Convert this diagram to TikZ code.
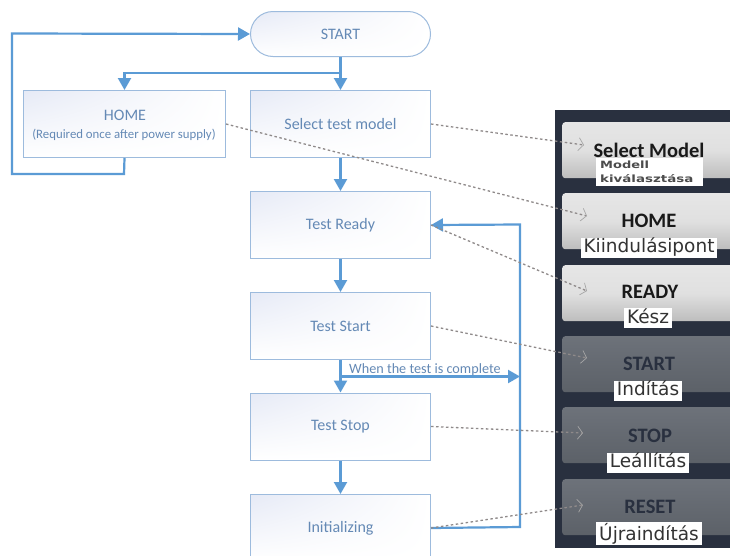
\documentclass[tikz,border=0pt]{standalone}
\usepackage{fontspec}
\usepackage{graphicx}
\setmainfont{Carlito}
\newfontfamily\btnfont{Carlito}
\newfontfamily\hufont{DejaVu Sans}
\usetikzlibrary{arrows.meta,calc,shadings}
\definecolor{flowblue}{HTML}{5B9BD5}
\definecolor{boxline}{HTML}{9DBBDD}
\definecolor{flowtext}{HTML}{6489B5}
\definecolor{panelc}{HTML}{29303F}
\definecolor{boxtint}{HTML}{E6EAF6}
\definecolor{hintc}{HTML}{8F8A8A}
\definecolor{btnlighta}{HTML}{E6E6E6}
\definecolor{btnlightm}{HTML}{E0E0E0}
\definecolor{btnlightb}{HTML}{BDBDBD}
\definecolor{btndarka}{HTML}{6D727A}
\definecolor{btndarkb}{HTML}{5C6168}
\tikzset{
  x=1pt,y=-1pt,
  flowbox/.style={draw=boxline,line width=1pt,minimum width=180pt,minimum height=67pt,inner sep=0pt,
    upper left=boxtint,upper right=white,lower left=white,lower right=white,
    text=flowtext,font=\fontsize{16}{18}\selectfont,align=center},
  flow/.style={draw=flowblue,line width=2.2pt,-{Triangle[length=12pt,width=13pt]}},
  hint/.style={draw=hintc,line width=1.3pt,dash pattern=on 2.5pt off 2.5pt,-{Straight Barb[length=5pt,width=13pt,line width=0.7pt,color=black!35]}},
  lightbtn/.style={rounded corners=3pt,minimum width=172pt,minimum height=56pt,inner sep=0pt,
    top color=btnlighta,bottom color=btnlightb,middle color=btnlightm},
  darkbtn/.style={rounded corners=3pt,minimum width=172pt,minimum height=56pt,inner sep=0pt,
    top color=btndarka,bottom color=btndarkb},
  btntitle/.style={font=\btnfont\bfseries\fontsize{20.5}{22}\selectfont,text=black!90,inner sep=0pt},
  btntitledark/.style={font=\btnfont\bfseries\fontsize{20.5}{22}\selectfont,text=panelc,inner sep=0pt},
  hulabel/.style={fill=white,font=\hufont\fontsize{18.5}{20}\selectfont,text=black!80,inner xsep=3pt,inner ysep=0pt,text height=15pt,text depth=5pt},
}
\begin{document}
\begin{tikzpicture}
\useasboundingbox (0,0) rectangle (730,555);
\clip (0,0) rectangle (730,555);
\fill[white] (0,0) rectangle (730,555);
% panel
\node[fill=panelc,minimum width=175pt,minimum height=438pt,inner sep=0pt,anchor=north west] (panel) at (555,110) {};
\node[lightbtn,anchor=north west] (b1) at (562,122) {};
\node[lightbtn,anchor=north west] (b2) at (562,193) {};
\node[lightbtn,anchor=north west] (b3) at (562,265) {};
\node[darkbtn,anchor=north west] (b4) at (562,336) {};
\node[darkbtn,anchor=north west] (b5) at (562,407) {};
\node[darkbtn,anchor=north west] (b6) at (562,479) {};
\node[btntitle] (t1) at (649,150) {Select Model};
\node[btntitle] (t2) at (649,221) {HOME};
\node[btntitle] (t3) at (650,292) {READY};
\node[btntitledark] (t4) at (649,364) {START};
\node[btntitledark] (t5) at (650,436) {STOP};
\node[btntitledark] (t6) at (650,507) {RESET};
\node[fill=white,minimum width=107pt,minimum height=28pt,inner sep=0pt,anchor=north west] (l1bg) at (596,158) {};
\node[font=\hufont\bfseries\fontsize{10}{11}\selectfont,text=black!70,inner sep=0pt,anchor=west] (l1a) at (600,165) {\scalebox{1.3}[1]{Modell}};
\node[font=\hufont\bfseries\fontsize{10}{11}\selectfont,text=black!70,inner sep=0pt,anchor=west] (l1b) at (600,179) {\scalebox{1.34}[1]{kiválasztása}};
\node[hulabel] (l2) at (649,247.5) {Kiindulásipont};
\node[hulabel] (l3) at (648,318) {Kész};
\node[hulabel] (l4) at (648,390.5) {Indítás};
\node[hulabel] (l5) at (648,462.5) {Leállítás};
\node[hulabel,text height=18pt] (l6) at (649,533.5) {Újraindítás};
% flow boxes
\node[flowbox,rounded corners=22.5pt,minimum height=45pt,anchor=north west] (start) at (250,11) {START};
\node[flowbox,minimum width=202pt,anchor=north west] (home) at (23,90) {};
\node[text=flowtext,font=\fontsize{16}{18}\selectfont,inner sep=0pt] (homea) at (125,115) {HOME};
\node[text=flowtext,font=\fontsize{12.8}{14}\selectfont,inner sep=0pt] (homeb) at (124,135) {(Required once after power supply)};
\node[flowbox,anchor=north west] (select) at (250,90) {Select test model};
\node[flowbox,anchor=north west] (ready) at (250,191) {Test Ready};
\node[flowbox,anchor=north west] (tstart) at (250,292) {Test Start};
\node[flowbox,anchor=north west] (tstop) at (250,392.5) {Test Stop};
\node[flowbox,anchor=north west] (init) at (250,494) {Initializing};
% blue connectors
\coordinate (split) at (340,73);
\coordinate (homelow) at (124,174);
\coordinate (leftlow) at (12,174);
\coordinate (lefttop) at (12,33.5);
\coordinate (branch) at (340,376.5);
\coordinate (busjoin) at (520,376.5);
\coordinate (buslow) at (520,527);
\coordinate (bustop) at (520,224.5);
\draw[flow] (start.south) -- (select.north);
\draw[flow] (split) -| (home.north);
\draw[flow] (home.south) -- (homelow) -- (leftlow) -- (lefttop) -- (start.west);
\draw[flow] (select.south) -- (ready.north);
\draw[flow] (ready.south) -- (tstart.north);
\draw[flow] (tstart.south) -- (tstop.north);
\draw[flow] (tstop.south) -- (init.north);
\draw[flow] (branch) -- (busjoin);
\draw[flow] (init.east) -- (buslow) -- (bustop) -- (ready.east);
\node[text=flowtext,font=\fontsize{14.2}{16}\selectfont,inner sep=0pt,anchor=west] (complete) at (349,370) {When the test is complete};
% hint connectors
\coordinate (h1) at (584,145);
\coordinate (h2) at (587,216);
\coordinate (h3) at (587,291);
\coordinate (h4) at (587,358);
\coordinate (h5) at (583,433);
\coordinate (h6) at (583,505);
\draw[hint] (select.east) -- (h1);
\draw[hint] (home.east) -- (h2);
\draw[hint] (ready.east) -- (h3);
\draw[hint] (tstart.east) -- (h4);
\draw[hint] (tstop.east) -- (h5);
\draw[hint] (init.east) -- (h6);
\end{tikzpicture}
\end{document}
